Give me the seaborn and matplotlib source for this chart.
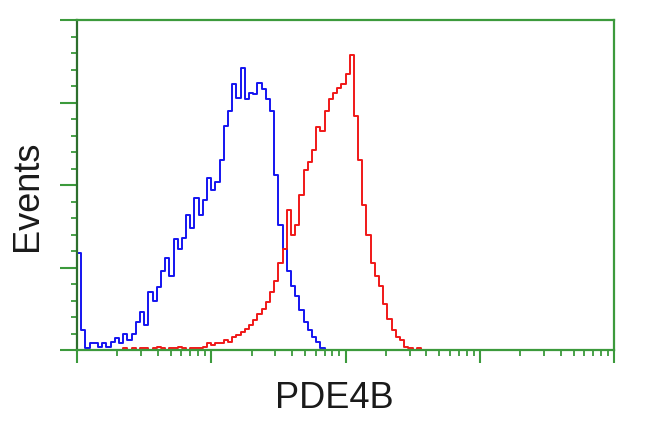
import numpy as np
import pandas as pd
import matplotlib
matplotlib.use("Agg")
import matplotlib.pyplot as plt
import seaborn as sns
from matplotlib.ticker import LogLocator, MultipleLocator, NullFormatter

# log channel layout: 128 channels over 4 decades
n_channels = 128
decades = 4

# events per channel (channels past the list are empty)
control_counts = [59, 12, 1, 4, 4, 2, 4, 2, 5, 7, 4, 10, 6, 10, 17, 23,
                  15, 35, 30, 38, 48, 56, 45, 67, 61, 68, 82, 74, 92, 82,
                  91, 104, 97, 102, 115, 136, 145, 161, 153, 171, 152, 156,
                  155, 162, 158, 152, 145, 106, 76, 61, 48, 39, 33, 24, 17,
                  12, 8, 5, 1]
pde4b_counts = [0, 0, 0, 0, 0, 0, 0, 0, 0, 0, 0, 1, 0, 1, 0, 1, 1, 0, 1, 2,
                1, 0, 1, 1, 2, 1, 0, 1, 1, 1, 2, 4, 3, 4, 4, 6, 5, 8, 9, 11,
                13, 15, 18, 22, 25, 29, 35, 42, 53, 61, 85, 70, 76, 94, 109,
                114, 121, 135, 133, 145, 152, 156, 159, 161, 167, 179, 142,
                115, 88, 70, 53, 45, 39, 28, 19, 12, 8, 6, 2, 1, 0, 1]

channel = np.arange(n_channels)
intensity = 10 ** ((channel + 0.5) * decades / n_channels)
control = np.zeros(n_channels)
control[:len(control_counts)] = control_counts
pde4b = np.zeros(n_channels)
pde4b[:len(pde4b_counts)] = pde4b_counts
df = pd.DataFrame({"intensity": intensity, "control": control, "pde4b": pde4b})

sns.set_style("ticks")
plt.rcParams["font.family"] = ["Liberation Sans", "DejaVu Sans"]

fig = plt.figure(figsize=(6.5, 4.32), dpi=100)
ax = fig.add_axes([0.1185, 0.1898, 0.8261, 0.7639])

sns.histplot(data=df, x="intensity", weights="control", bins=n_channels,
             binrange=(0, decades), log_scale=True, element="step", fill=False,
             color="#1414f0", linewidth=1.4, ax=ax)
sns.histplot(data=df, x="intensity", weights="pde4b", bins=n_channels,
             binrange=(0, decades), log_scale=True, element="step", fill=False,
             color="#f01818", linewidth=1.4, ax=ax)

ax.set_xlim(1, 1e4)
ax.set_ylim(0, 200)

green = "#3c9a3c"
ax.xaxis.set_major_locator(LogLocator(base=10, numticks=10))
ax.xaxis.set_minor_locator(LogLocator(base=10, subs=np.arange(2, 10), numticks=100))
ax.xaxis.set_major_formatter(NullFormatter())
ax.xaxis.set_minor_formatter(NullFormatter())
ax.yaxis.set_major_locator(MultipleLocator(50))
ax.yaxis.set_minor_locator(MultipleLocator(10))
ax.yaxis.set_major_formatter(NullFormatter())

ax.tick_params(axis="x", which="major", length=9.5, width=1.5, color=green)
ax.tick_params(axis="x", which="minor", length=4, width=1.3, color=green)
ax.tick_params(axis="y", which="major", length=12, width=1.5, color=green)
ax.tick_params(axis="y", which="minor", length=4, width=1.3, color=green)

for side in ["top", "right", "bottom"]:
    ax.spines[side].set_visible(True)
    ax.spines[side].set_color(green)
    ax.spines[side].set_linewidth(1.6)
ax.spines["left"].set_color("#2d6f2d")
ax.spines["left"].set_linewidth(1.6)

ax.set_xlabel("PDE4B", fontsize=26, color="#1a1a1a")
ax.set_ylabel("Events", fontsize=26, color="#1a1a1a")
ax.xaxis.set_label_coords(0.48, -0.095)
ax.yaxis.set_label_coords(-0.06, 0.467)

fig.savefig("out.png", dpi=100)
plt.close(fig)
